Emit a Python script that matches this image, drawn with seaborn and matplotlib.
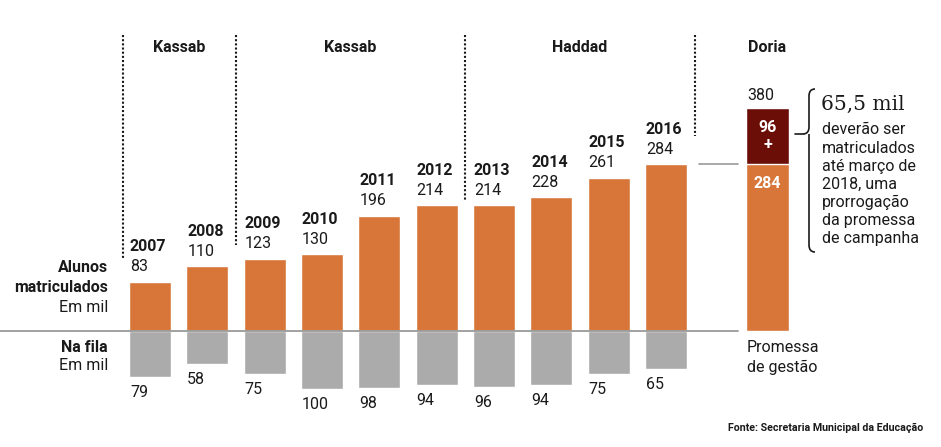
import numpy as np
import pandas as pd
import matplotlib
matplotlib.use("Agg")
import matplotlib.pyplot as plt
from matplotlib.path import Path
from matplotlib.patches import PathPatch
import seaborn as sns

years = ['2007', '2008', '2009', '2010', '2011', '2012', '2013', '2014', '2015', '2016']
matriculados = [83, 110, 123, 130, 196, 214, 214, 228, 261, 284]
na_fila = [79, 58, 75, 100, 98, 94, 96, 94, 75, 65]

gestoes = ['Kassab', 'Kassab', 'Haddad']
gestao_limites = [-0.47, 1.5, 5.5, 9.5]   # bar slots where each term starts/ends

doria_base = 284
doria_extra = 96
doria_total = doria_base + doria_extra

nota = ['deverão ser', 'matriculados', 'até março de', '2018, uma',
        'prorrogação', 'da promessa', 'de campanha']

ORANGE = '#D8763A'
GRAY = '#ABABAB'
DARKRED = '#6B0E08'
INK = '#1a1a1a'
FS = 11.5

sns.set_style('white')
plt.rcParams['font.family'] = ['Roboto', 'DejaVu Sans']

W, H = 941, 447
fig = plt.figure(figsize=(W / 100, H / 100), dpi=100)
ax = fig.add_axes([0, 0, 1, 1])

# pixel -> data helpers (bar slot = 57.33 px, 1 mil = 0.585 px)
X0, DX = 150.0, 57.33
Y0, DY = 330.5, 0.585
def dx(p):
    return (p - X0) / DX
def dy(p):
    return (Y0 - p) / DY

pos = np.arange(len(years), dtype=float)
df = pd.DataFrame({'pos': pos, 'ano': years, 'mat': matriculados,
                   'fila': [-v for v in na_fila]})
bw = 0.733

sns.barplot(data=df, x='pos', y='mat', native_scale=True, width=bw,
            color=ORANGE, saturation=1, errorbar=None, ax=ax)
sns.barplot(data=df, x='pos', y='fila', native_scale=True, width=bw,
            color=GRAY, saturation=1, errorbar=None, ax=ax)

# Doria bar (promise): total in dark red, current base on top in orange
doria_pos = dx(767.5)
dw = 0.75
sns.barplot(x=[doria_pos], y=[doria_total], native_scale=True, width=dw,
            color=DARKRED, saturation=1, errorbar=None, ax=ax)
sns.barplot(x=[doria_pos], y=[doria_base], native_scale=True, width=dw,
            color=ORANGE, saturation=1, errorbar=None, ax=ax)

ax.set_xlim(dx(0), dx(W))
ax.set_ylim(dy(H), dy(0))
ax.axis('off')

# baseline and 2016 reference line
ax.plot([dx(0), dx(738)], [0, 0], color='#9a9a9a', lw=1.3, zorder=1)
ax.plot([dx(699), dx(738)], [doria_base, doria_base], color='#9a9a9a', lw=1.2)

# labels on bars
for p, y, m, f in zip(pos, years, matriculados, na_fila):
    left = p - bw / 2
    ax.annotate(y, (left, m), xytext=(1, 35), textcoords='offset pixels',
                ha='left', va='center', fontsize=FS, fontweight='bold', color=INK)
    ax.annotate(str(m), (left, m), xytext=(1, 15), textcoords='offset pixels',
                ha='left', va='center', fontsize=FS, color=INK)
    ax.annotate(str(f), (left, -f), xytext=(1, -15.5), textcoords='offset pixels',
                ha='left', va='center', fontsize=FS, color=INK)

dl = doria_pos - dw / 2
ax.annotate(str(doria_total), (dl, doria_total), xytext=(1, 13),
            textcoords='offset pixels', ha='left', va='center', fontsize=FS, color=INK)
ax.text(doria_pos, dy(127), str(doria_extra), ha='center', va='center',
        fontsize=FS, fontweight='bold', color='white')
ax.text(doria_pos, dy(145), '+', ha='center', va='center',
        fontsize=FS, fontweight='bold', color='white')
ax.text(doria_pos, dy(184), str(doria_base), ha='center', va='center',
        fontsize=FS, fontweight='bold', color='white')

# terms of office
dots = dict(color=INK, lw=1.5, linestyle=(0, (1, 1)))
line_ends = [258, 245, 200, 136]
for b, e in zip(gestao_limites, line_ends):
    ax.plot([b, b], [dy(35), dy(e)], **dots)
for i, nome in enumerate(gestoes):
    c = (gestao_limites[i] + gestao_limites[i + 1]) / 2
    ax.text(c, dy(47), nome, ha='center', va='center', fontsize=FS,
            fontweight='bold', color=INK)
ax.text(doria_pos, dy(47), 'Doria', ha='center', va='center', fontsize=FS,
        fontweight='bold', color=INK)

# left legend
lx = dx(108)
ax.text(lx, dy(267), 'Alunos', ha='right', va='center', fontsize=FS, fontweight='bold', color=INK)
ax.text(lx, dy(287), 'matriculados', ha='right', va='center', fontsize=FS, fontweight='bold', color=INK)
ax.text(lx, dy(307), 'Em mil', ha='right', va='center', fontsize=FS, color=INK)
ax.text(lx, dy(347), 'Na fila', ha='right', va='center', fontsize=FS, fontweight='bold', color=INK)
ax.text(lx, dy(366), 'Em mil', ha='right', va='center', fontsize=FS, color=INK)

# below Doria bar
ax.text(dx(747), dy(348), 'Promessa', ha='left', va='center', fontsize=FS, color=INK)
ax.text(dx(747), dy(367), 'de gestão', ha='left', va='center', fontsize=FS, color=INK)

# curly brace with note
pts = [(815, 89), (809, 89), (809, 96), (809, 127), (809, 134), (803, 134),
       (809, 134), (809, 141), (809, 245), (809, 252), (815, 252)]
codes = [Path.MOVETO, Path.CURVE3, Path.CURVE3, Path.LINETO, Path.CURVE3, Path.CURVE3,
         Path.MOVETO, Path.CURVE3, Path.CURVE3, Path.CURVE3, Path.CURVE3]
codes[8] = Path.LINETO
verts = [(dx(a), dy(b)) for a, b in pts]
ax.add_patch(PathPatch(Path(verts, codes), fill=False, lw=1.2, color=INK))
ax.plot([dx(795), dx(803)], [dy(134), dy(134)], color=INK, lw=1.2)

ax.text(dx(821), dy(104), '65,5 mil', ha='left', va='center', fontsize=14.5,
        family='DejaVu Serif', color=INK)
for i, t in enumerate(nota):
    ax.text(dx(822), dy(130 + i * 18.1), t, ha='left', va='center',
            fontsize=FS, color=INK)

ax.text(dx(923), dy(428), 'Fonte: Secretaria Municipal da Educação', ha='right',
        va='center', fontsize=7.7, fontweight='bold', color=INK)

fig.savefig('out.png', dpi=100, facecolor='white')
